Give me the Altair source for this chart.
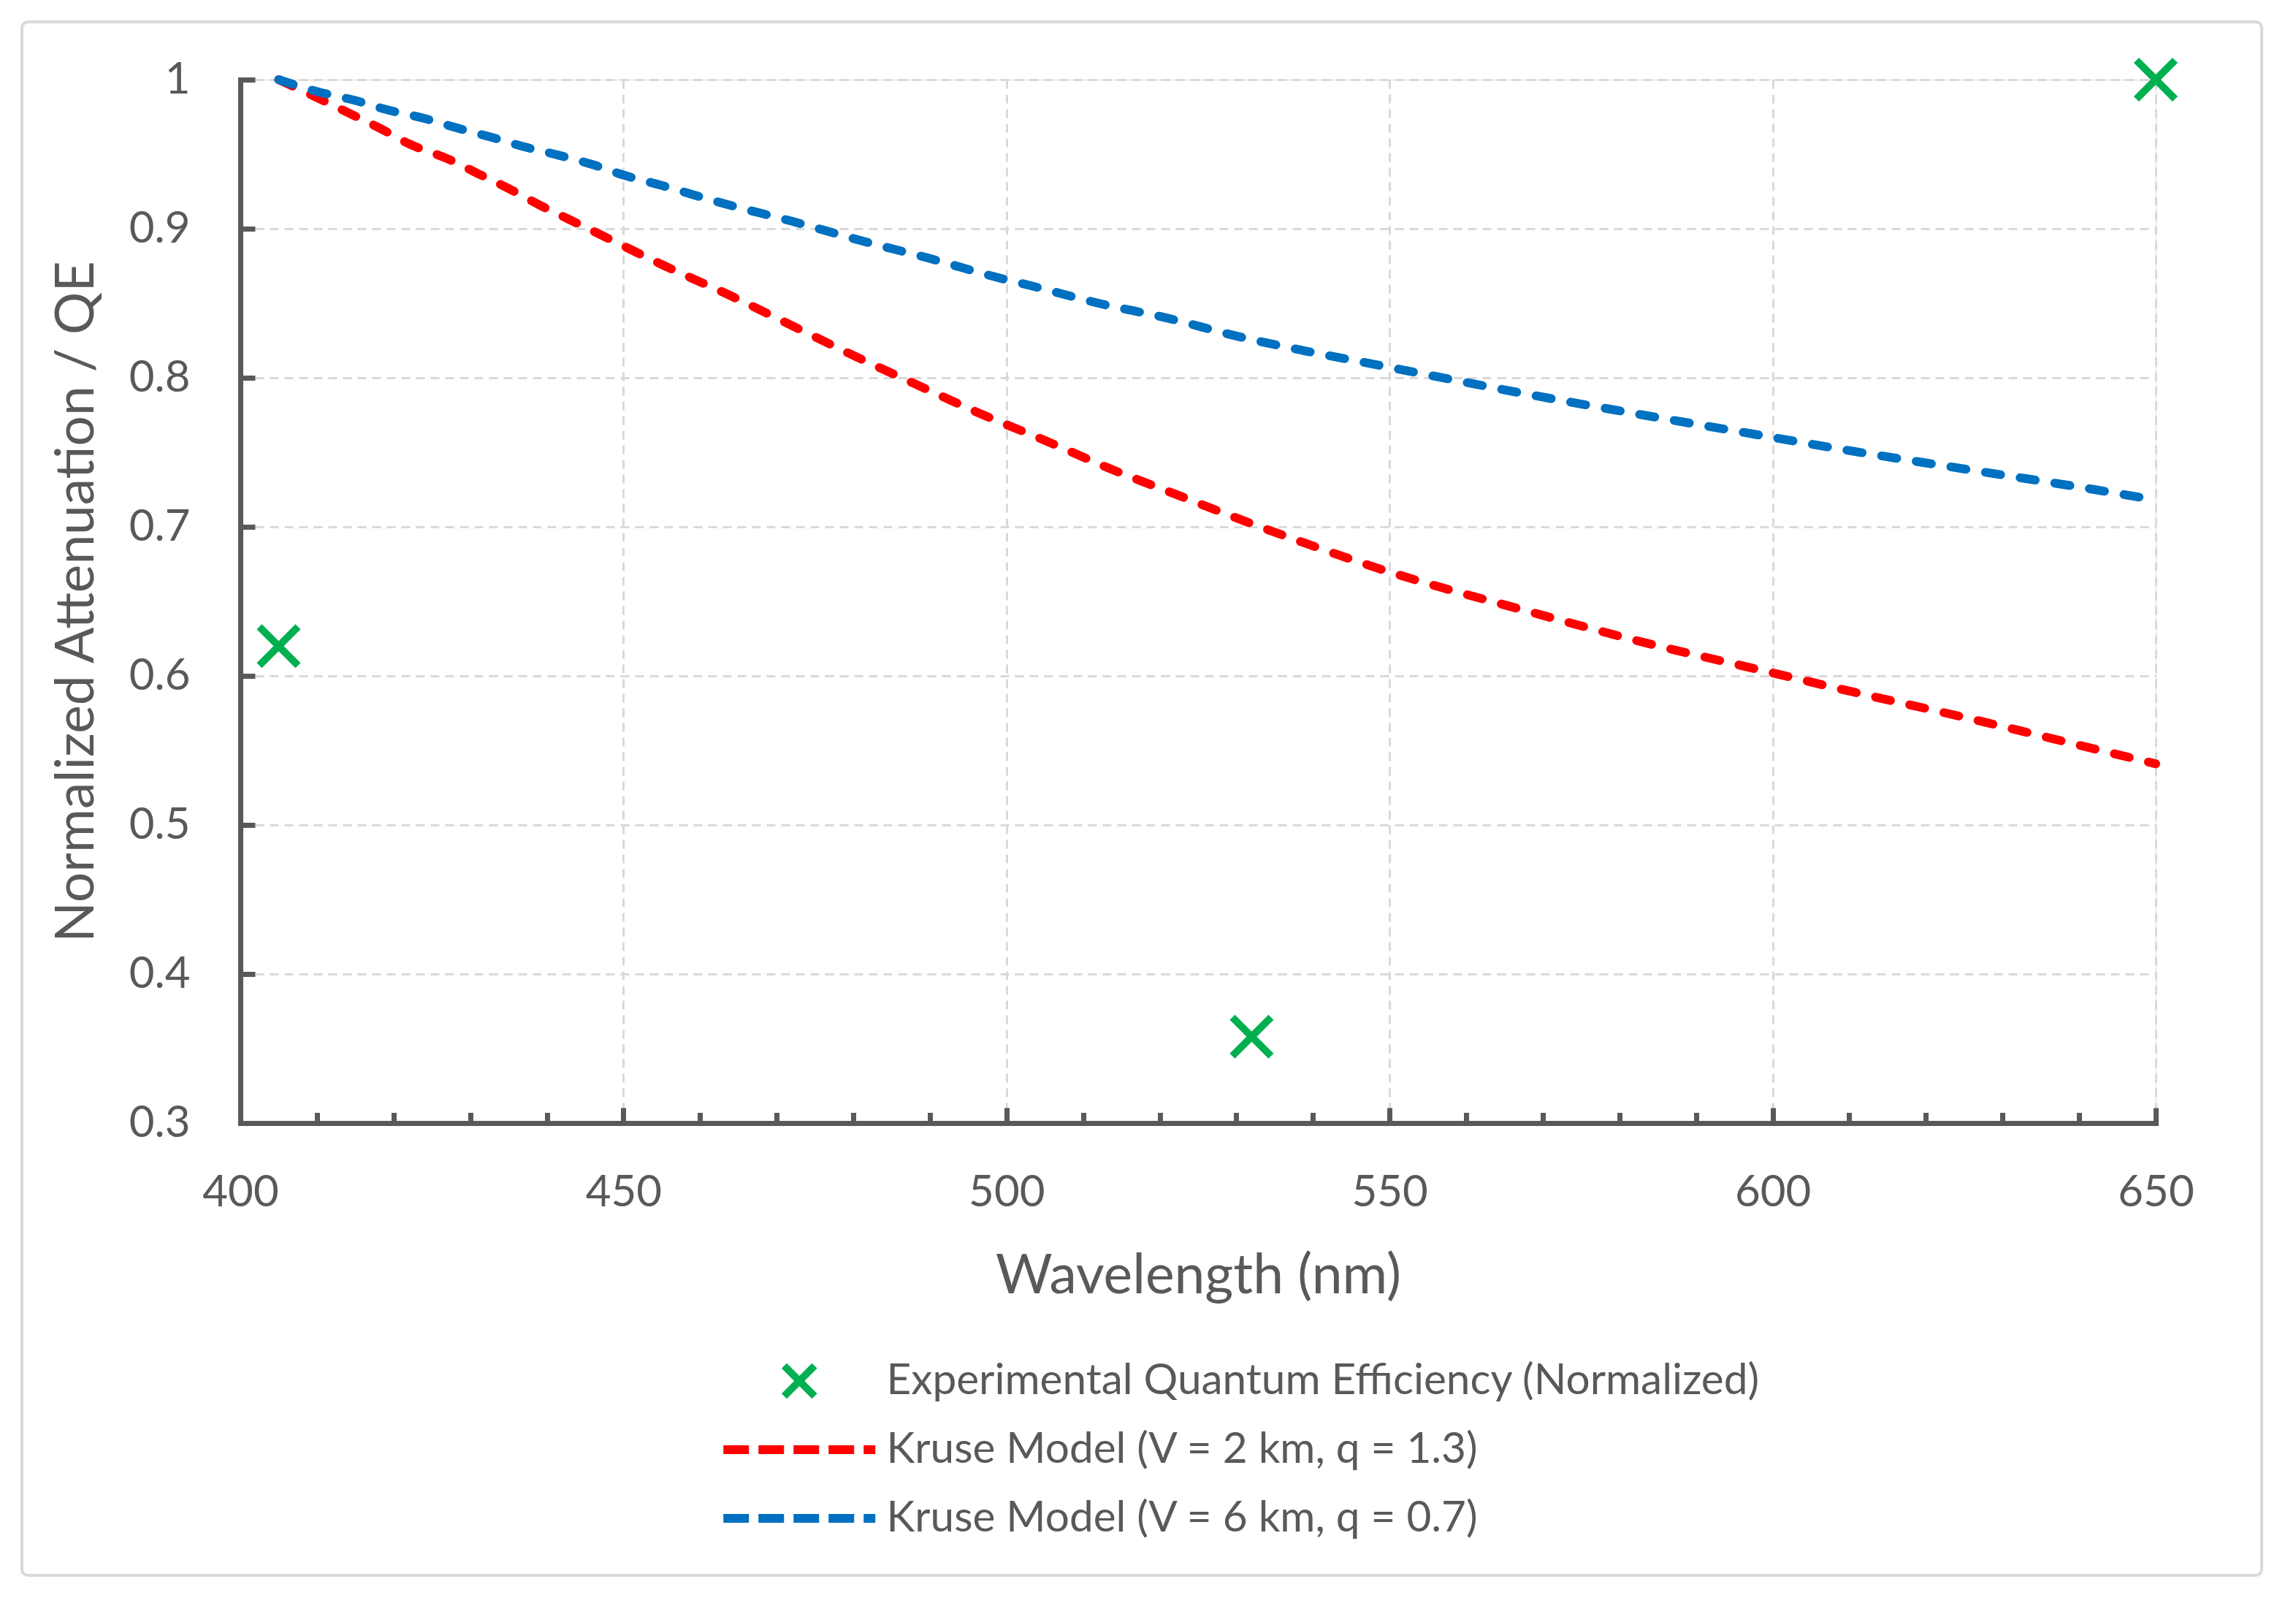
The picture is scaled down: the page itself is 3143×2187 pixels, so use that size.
import altair as alt
import pandas as pd

# ---- data ----
red_wl = [405, 410, 414, 418, 422, 427, 431, 435, 439, 443, 447, 455, 464, 472, 480,
          488, 497, 505, 514, 522, 531, 539, 548, 569, 582, 600, 609, 626, 642, 650]
red_val = [1.000, 0.988, 0.978, 0.968, 0.957, 0.947, 0.937, 0.927, 0.916, 0.906, 0.896,
           0.876, 0.855, 0.835, 0.815, 0.796, 0.775, 0.758, 0.738, 0.722, 0.704, 0.689,
           0.673, 0.642, 0.624, 0.602, 0.591, 0.571, 0.551, 0.541]

blue_wl = [405, 410, 415, 419, 424, 428, 433, 437, 441, 446, 450, 455, 463, 472, 481,
           490, 499, 503, 512, 521, 530, 539, 548, 569, 582, 600, 609, 626, 642, 650]
blue_val = [1.000, 0.992, 0.986, 0.980, 0.974, 0.968, 0.961, 0.955, 0.950, 0.943, 0.936,
            0.929, 0.917, 0.905, 0.892, 0.880, 0.867, 0.862, 0.850, 0.840, 0.828, 0.818,
            0.809, 0.788, 0.776, 0.760, 0.752, 0.738, 0.725, 0.718]

exp_wl = [405, 532, 650]
exp_val = [0.62, 0.358, 1.0]

S_EXP = "Experimental Quantum Efficiency (Normalized)"
S_RED = "Kruse Model (V = 2 km, q = 1.3)"
S_BLUE = "Kruse Model (V = 6 km, q = 0.7)"
series_names = [S_EXP, S_RED, S_BLUE]
series_colors = ["#00B050", "#FF0000", "#0070C0"]

x_major = [400, 450, 500, 550, 600, 650]
x_minor = [400, 410, 420, 430, 440, 450, 460, 470, 480, 490, 500, 510, 520, 530, 540,
           550, 560, 570, 580, 590, 600, 610, 620, 630, 640, 650]
y_ticks = [0.3, 0.4, 0.5, 0.6, 0.7, 0.8, 0.9, 1.0]

lines_df = pd.concat([
    pd.DataFrame({"wavelength": red_wl, "value": red_val, "series": S_RED}),
    pd.DataFrame({"wavelength": blue_wl, "value": blue_val, "series": S_BLUE}),
])
exp_df = pd.DataFrame({"wavelength": exp_wl, "value": exp_val, "series": S_EXP})

W, H = 2622, 1428
FONT = "Lato"
GREY = "#595959"
XPATH = "M-0.2,-0.2L0.2,0.2M-0.2,0.2L0.2,-0.2"

xscale = alt.Scale(domain=[400, 650], nice=False, zero=False)
yscale = alt.Scale(domain=[0.3, 1.0], nice=False, zero=False)
cscale = alt.Scale(domain=series_names, range=series_colors)

legend = alt.Legend(
    title=None, orient="none", legendX=650, legendY=1746, direction="vertical",
    labelFont=FONT, labelFontSize=58.5, labelColor=GREY, labelLimit=3000,
    labelOffset=90, symbolOffset=86, symbolSize=43264, clipHeight=70, rowPadding=24,
    symbolStrokeWidth={"expr": f"datum.value === '{S_EXP}' ? 10 : 12"},
    symbolDash={"expr": f"datum.value === '{S_EXP}' ? [1, 0] : [35, 13]"},
)

x_axis_main = alt.Axis(
    values=x_major, format="d", title="Wavelength (nm)",
    labelFont=FONT, labelFontSize=60, labelColor=GREY, labelPadding=66,
    labelFlush=False, labelOverlap=False,
    ticks=False, tickSize=0,
    domainColor=GREY, domainWidth=7, domainCap="square",
    grid=True, gridColor="#D9D9D9", gridWidth=3, gridDash=[12, 8],
    titleFont=FONT, titleFontSize=75, titleFontWeight="normal", titleColor=GREY,
    titlePadding=48,
)
y_axis_main = alt.Axis(
    values=y_ticks, format="~g", title="Normalized Attenuation / QE",
    labelFont=FONT, labelFontSize=60, labelColor=GREY, labelPadding=69,
    labelOverlap=False,
    ticks=False, tickSize=0,
    domainColor=GREY, domainWidth=7, domainCap="square",
    grid=True, gridColor="#D9D9D9", gridWidth=3, gridDash=[12, 8],
    titleFont=FONT, titleFontSize=73, titleFontWeight="normal", titleColor=GREY,
    titlePadding=34,
)
x_axis_ticks = alt.Axis(
    orient="top", offset=-H, values=x_minor, domain=False, labels=False,
    grid=False, title=None, ticks=True, tickColor=GREY, tickWidth=7,
    tickSize={"condition": {"test": "datum.value % 50 === 0", "value": 21}, "value": 14.5},
)
y_axis_ticks = alt.Axis(
    orient="right", offset=-W, values=y_ticks, domain=False, labels=False,
    grid=False, title=None, ticks=True, tickColor=GREY, tickWidth=7, tickSize=20,
)

lines = alt.Chart(lines_df).mark_line(
    strokeWidth=12, strokeCap="round", strokeDash=[21, 27], interpolate="monotone"
).encode(
    x=alt.X("wavelength:Q", scale=xscale, axis=x_axis_main),
    y=alt.Y("value:Q", scale=yscale, axis=y_axis_main),
    color=alt.Color("series:N", scale=cscale, legend=legend),
)

points = alt.Chart(exp_df).mark_point(
    filled=False, strokeWidth=10, size=70225, opacity=1
).encode(
    x=alt.X("wavelength:Q", scale=xscale, axis=x_axis_ticks),
    y=alt.Y("value:Q", scale=yscale, axis=y_axis_ticks),
    color=alt.Color("series:N", scale=cscale, legend=legend),
    shape=alt.Shape("series:N",
                    scale=alt.Scale(domain=series_names, range=[XPATH, "stroke", "stroke"]),
                    legend=legend),
)

frame = alt.Chart(pd.DataFrame({"frame": [0]})).mark_rect(
    fill="transparent", stroke="#D9D9D9", strokeWidth=4, cornerRadius=8
).encode(
    x=alt.value(-299), x2=alt.value(2767), y=alt.value(-79), y2=alt.value(2047)
)

chart = alt.layer(frame, lines, points).resolve_axis(
    x="independent", y="independent"
).properties(
    width=W, height=H,
    padding={"left": 321, "top": 101, "right": 165, "bottom": 628},
    autosize=alt.AutoSizeParams(type="none"),
).configure_view(stroke=None).configure(font=FONT)

chart.save("out.html", embed_options={"renderer": "svg", "actions": False})
